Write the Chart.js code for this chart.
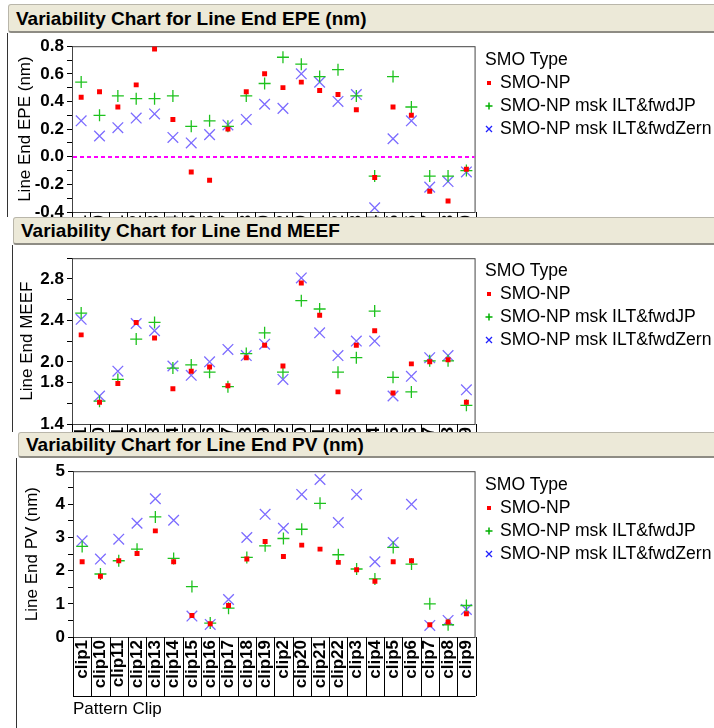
<!DOCTYPE html>
<html>
<head>
<meta charset="utf-8">
<script src="https://cdn.jsdelivr.net/npm/chart.js@4.4.0/dist/chart.umd.min.js"></script>
<style>
  body { margin: 0; width: 714px; height: 728px; overflow: hidden; background: #fff; position: relative;
         font-family: Arial, "Liberation Sans", sans-serif; }
  .panel { position: absolute; left: 0; width: 714px; background: #fff; overflow: hidden; }
  .hdr { position: absolute; top: 0; right: -4px; background: #ECE9D8; border: 1px solid #B9B6AA;
         border-bottom: 2px solid #8E8C84; border-radius: 3px 0 0 3px; box-sizing: border-box;
         font: bold 19px Arial, "Liberation Sans", sans-serif; padding-left: 7px; color: #000; }
  .frame { position: absolute; bottom: 0; border-left: 1px solid #333; }
  .panel canvas { position: absolute; left: 0; }
  .legend { position: absolute; left: 485px; font: 17.6px Arial, "Liberation Sans", sans-serif; line-height: 23px; color: #000; white-space: nowrap; }
  .legend .mk { display: inline-block; width: 15px; }
  .legend svg { vertical-align: middle; }
</style>
</head>
<body>

<div class="panel" style="top:4px;height:724px;z-index:1">
  <div class="hdr" style="left:8px;height:29px;line-height:27px">Variability Chart for Line End EPE (nm)</div>
  <div class="frame" style="left:7px;top:29px"></div>
  <canvas id="epeChart" width="490" height="270" style="top:29px"></canvas>
  <div class="legend" style="top:44px"></div>
</div>

<div class="panel" style="top:217px;height:511px;z-index:2">
  <div class="hdr" style="left:13px;height:28px;line-height:26px">Variability Chart for Line End MEEF</div>
  <div class="frame" style="left:12px;top:28px"></div>
  <canvas id="meefChart" width="490" height="270" style="top:28px"></canvas>
  <div class="legend" style="top:42px"></div>
</div>

<div class="panel" style="top:432px;height:296px;z-index:3">
  <div class="hdr" style="left:18px;height:26px;line-height:24px">Variability Chart for Line End PV (nm)</div>
  <div class="frame" style="left:16px;top:26px"></div>
  <canvas id="pvChart" width="490" height="270" style="top:26px"></canvas>
  <div class="legend" style="top:41px"></div>
</div>

<script>
// --- categorie e serie ---
const clips = ['clip1', 'clip10', 'clip11', 'clip12', 'clip13', 'clip14', 'clip15', 'clip16', 'clip17',
  'clip18', 'clip19', 'clip2', 'clip20', 'clip21', 'clip22', 'clip3', 'clip4', 'clip5', 'clip6',
  'clip7', 'clip8', 'clip9'];
const smoTypes = ['SMO-NP', 'SMO-NP msk ILT&fwdJP', 'SMO-NP msk ILT&fwdZern'];

const epeNP   = [0.43, 0.47, 0.36, 0.52, 0.78, 0.27, -0.11, -0.17, 0.20, 0.47, 0.60, 0.50, 0.54, 0.48, 0.45, 0.34, -0.15, 0.36, 0.30, -0.25, -0.32, -0.09];
const epeJP   = [0.54, 0.30, 0.44, 0.42, 0.42, 0.44, 0.22, 0.26, 0.22, 0.44, 0.53, 0.72, 0.67, 0.58, 0.63, 0.44, -0.14, 0.58, 0.36, -0.14, -0.14, -0.10];
const epeZern = [0.26, 0.15, 0.21, 0.28, 0.31, 0.14, 0.10, 0.16, 0.23, 0.27, 0.38, 0.35, 0.60, 0.54, 0.40, 0.45, -0.37, 0.13, 0.26, -0.22, -0.18, -0.11];

const meefNP   = [2.26, 1.61, 1.79, 2.38, 2.23, 1.74, 1.91, 1.95, 1.77, 2.04, 2.16, 1.96, 2.76, 2.45, 1.71, 2.16, 2.30, 1.70, 1.98, 2.00, 2.02, 1.61];
const meefJP   = [2.47, 1.62, 1.83, 2.22, 2.38, 1.94, 1.97, 1.90, 1.76, 2.08, 2.28, 1.90, 2.59, 2.51, 1.90, 2.04, 2.49, 1.85, 1.71, 2.01, 2.01, 1.58];
const meefZern = [2.41, 1.67, 1.91, 2.37, 2.30, 1.96, 1.87, 2.00, 2.12, 2.06, 2.17, 1.83, 2.81, 2.28, 2.06, 2.20, 2.20, 1.67, 1.86, 2.04, 2.06, 1.73];

const pvNP   = [2.27, 1.83, 2.30, 2.52, 3.20, 2.27, 0.65, 0.40, 0.95, 2.35, 2.88, 2.43, 2.77, 2.65, 2.25, 2.03, 1.68, 2.27, 2.30, 0.37, 0.45, 0.70];
const pvJP   = [2.73, 1.90, 2.30, 2.65, 3.62, 2.37, 1.52, 0.42, 0.87, 2.40, 2.75, 2.97, 3.25, 4.03, 2.48, 2.05, 1.75, 2.70, 2.20, 1.00, 0.37, 0.95];
const pvZern = [2.90, 2.35, 2.95, 3.43, 4.17, 3.52, 0.63, 0.38, 1.13, 3.00, 3.70, 3.28, 4.30, 4.75, 3.45, 4.30, 2.27, 2.85, 4.00, 0.35, 0.50, 0.83];

// etichette asse y mostrate (le altre tacche restano senza testo)
const epeTicks  = [-0.4, -0.2, 0.0, 0.2, 0.4, 0.6, 0.8];
const meefTicks = [1.4, 1.8, 2.0, 2.4, 2.8];
const pvTicks   = [0, 1, 2, 3, 4, 5];

const FONT = 'Arial, "Liberation Sans", sans-serif';
const RED = '#FF0000', GREEN = '#1EC21E', BLUE = '#7C6CFF';

// --- plugin: riquadro del grafico, linea di riferimento, celle delle etichette ---
const boxPlugin = {
  id: 'clipBox',
  beforeDatasetsDraw(chart, args, opts) {
    const { ctx, chartArea: a, scales: { x, y } } = chart;
    ctx.save();
    ctx.strokeStyle = '#444';
    ctx.lineWidth = 1;
    ctx.strokeRect(a.left + 0.5, a.top + 0.5, a.width - 1, a.height);
    if (opts.refLine !== undefined) {
      const py = Math.round(y.getPixelForValue(opts.refLine));
      ctx.strokeStyle = '#FF00FF';
      ctx.lineWidth = 2;
      ctx.setLineDash([4, 3]);
      ctx.beginPath(); ctx.moveTo(a.left + 1, py); ctx.lineTo(a.right - 1, py); ctx.stroke();
      ctx.setLineDash([]);
    }
    const n = x.getLabels().length;
    const w = (x.right - x.left) / n;
    const h = opts.cellHeight;
    ctx.strokeStyle = '#000';
    ctx.lineWidth = 1;
    ctx.beginPath();
    for (let k = 0; k <= n; k++) {
      const px = Math.round(x.left + k * w) + 0.5;
      ctx.moveTo(px, a.bottom); ctx.lineTo(px, a.bottom + h);
    }
    ctx.moveTo(x.left, a.bottom + h + 0.5); ctx.lineTo(x.right, a.bottom + h + 0.5);
    ctx.stroke();
    ctx.restore();
  }
};

function makeChart(id, yTitle, series, yCfg, refLine) {
  const labels = yCfg.labels;
  return new Chart(document.getElementById(id), {
    type: 'line',
    data: {
      labels: clips,
      datasets: [
        { label: smoTypes[0], data: series[0], showLine: false, pointStyle: 'rect', pointRadius: 3.5,
          pointHoverRadius: 3.5, backgroundColor: RED, borderColor: RED, borderWidth: 0 },
        { label: smoTypes[1], data: series[1], showLine: false, pointStyle: 'cross', pointRadius: 6,
          pointHoverRadius: 6, borderColor: GREEN, backgroundColor: GREEN, borderWidth: 1.3 },
        { label: smoTypes[2], data: series[2], showLine: false, pointStyle: 'crossRot', pointRadius: 7.5,
          pointHoverRadius: 7.5, borderColor: BLUE, backgroundColor: BLUE, borderWidth: 1.3 }
      ]
    },
    options: {
      responsive: false,
      animation: false,
      layout: { padding: { top: 12, right: 8, left: 0, bottom: 0 } },
      plugins: {
        legend: { display: false },
        tooltip: { enabled: false },
        clipBox: { refLine, cellHeight: 59 }
      },
      scales: {
        x: {
          type: 'category',
          offset: true,
          grid: { display: false, drawTicks: false },
          border: { display: false },
          ticks: { autoSkip: false, minRotation: 90, maxRotation: 90, padding: 3, color: '#000',
                   font: { family: FONT, size: 17, weight: 'bold' } },
          title: { display: true, text: 'Pattern Clip', align: 'start', color: '#000',
                   font: { family: FONT, size: 17 }, padding: { top: 0, bottom: 8 } },
          afterFit: (s) => { s.height = 91; }
        },
        y: {
          min: yCfg.min, max: yCfg.max,
          grid: { drawOnChartArea: false, drawTicks: true, tickLength: 5, color: '#000' },
          border: { display: true, color: '#000', width: 1 },
          ticks: {
            stepSize: yCfg.step, autoSkip: false, padding: 3, color: '#000',
            font: { family: FONT, size: 17, weight: 'bold' },
            callback: (v) => labels.some(t => Math.abs(t - v) < 1e-6) ? v.toFixed(yCfg.dec) : ''
          },
          title: { display: true, text: yTitle, color: '#000', font: { family: FONT, size: 17 },
                   padding: { top: yCfg.titlePad, bottom: 0 } },
          afterFit: (s) => { s.width = yCfg.width; }
        }
      }
    },
    plugins: [boxPlugin]
  });
}

makeChart('epeChart', 'Line End EPE (nm)', [epeNP, epeJP, epeZern],
  { min: -0.4, max: 0.8, step: 0.1, labels: epeTicks, dec: 1, width: 72, titlePad: 15 }, 0);
makeChart('meefChart', 'Line End MEEF', [meefNP, meefJP, meefZern],
  { min: 1.4, max: 3.0, step: 0.2, labels: meefTicks, dec: 1, width: 72, titlePad: 17 });
makeChart('pvChart', 'Line End PV (nm)', [pvNP, pvJP, pvZern],
  { min: 0, max: 5, step: 0.5, labels: pvTicks, dec: 0, width: 73, titlePad: 22 });

// --- legenda (testo HTML con simboli) ---
const markers = [
  `<svg width="8" height="8"><rect x="2" y="2" width="4" height="4" fill="${RED}"/></svg>`,
  `<svg width="8" height="8"><path d="M4 0.5V7.5M0.5 4H7.5" stroke="#00B000" stroke-width="1.5"/></svg>`,
  `<svg width="8" height="8"><path d="M1 1L7 7M7 1L1 7" stroke="#2020FF" stroke-width="1.3"/></svg>`
];
document.querySelectorAll('.legend').forEach(el => {
  el.innerHTML = '<div>SMO Type</div>' +
    smoTypes.map((t, i) => `<div><span class="mk">${markers[i]}</span>${t.replace('&', '&amp;')}</div>`).join('');
});
</script>
</body>
</html>
